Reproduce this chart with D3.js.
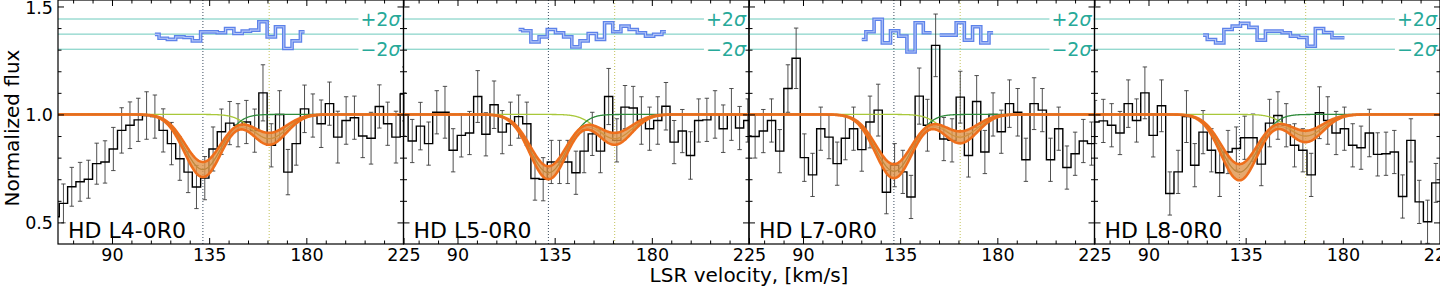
<!DOCTYPE html>
<html>
<head>
<meta charset="utf-8">
<title>HD absorption fits</title>
<script src="https://cdn.jsdelivr.net/npm/d3@7"></script>
<style>
  body { margin: 0; background: #fff; }
  svg { display: block; }
  text { font-family: "DejaVu Sans", sans-serif; }
</style>
</head>
<body>
<svg width="1440" height="288"></svg>
<script>
// ---- data ----
const lineNames = ["HD L4-0R0", "HD L5-0R0", "HD L7-0R0", "HD L8-0R0"];

// spectrum bins: left edge of the first bin and bin width (km/s)
const binStart = [61.75, 63.36, 62.13, 63.31];
const binWidth = [3.85, 3.79, 3.8, 3.85];

const flux1 = [0.526, 0.588, 0.665, 0.688, 0.70, 0.772, 0.78, 0.84, 0.926, 0.95, 0.975, 0.995, 0.99, 0.926, 0.865,
  0.795, 0.733, 0.664, 0.705, 0.84, 0.92, 0.96, 0.95, 0.965, 0.925, 1.10, 0.857, 1.0, 0.733, 0.865, 1.026, 0.995,
  0.957, 1.05, 0.895, 0.972, 0.985, 0.90, 0.89, 1.037, 0.957, 0.895, 1.095];
const flux2 = [1.0, 0.877, 0.946, 0.865, 1.01, 1.01, 0.834, 0.903, 0.914, 1.083, 0.908, 1.045, 0.918, 0.957, 0.99,
  0.957, 0.703, 0.70, 0.78, 0.78, 0.78, 0.73, 0.83, 0.91, 0.83, 1.083, 0.88, 1.034, 1.03, 0.972, 0.934, 0.972,
  1.038, 0.872, 0.923, 0.81, 0.972, 0.975, 1.0, 0.934, 1.0, 0.937, 0.972];
const flux3 = [0.90, 0.898, 0.923, 0.972, 0.83, 1.12, 1.26, 0.80, 0.72, 0.934, 0.895, 0.772, 0.89, 0.934, 0.837,
  0.965, 1.02, 0.64, 0.765, 0.734, 0.618, 1.085, 0.95, 1.32, 0.886, 0.88, 1.08, 0.81, 1.06, 0.826, 1.0, 0.92,
  1.05, 1.01, 0.79, 1.05, 1.02, 0.79, 0.934, 0.754, 0.818, 0.877, 0.865];
const flux4 = [0.965, 0.97, 0.95, 0.914, 1.05, 0.972, 1.10, 0.903, 1.04, 0.634, 0.734, 0.99, 0.765, 0.918, 0.834,
  0.73, 0.826, 0.842, 0.892, 0.892, 0.77, 0.96, 0.995, 0.95, 0.857, 0.834, 0.72, 1.008, 0.972, 0.914, 0.934,
  0.857, 0.846, 0.914, 0.815, 0.818, 0.826, 0.62, 0.88, 0.595, 0.503, 0.683];

const err1 = [0.09, 0.09, 0.09, 0.09, 0.088, 0.095, 0.098, 0.1, 0.105, 0.108, 0.1, 0.11, 0.1, 0.1, 0.098, 0.1, 0.095,
  0.1, 0.1, 0.102, 0.105, 0.1, 0.1, 0.1, 0.1, 0.13, 0.1, 0.11, 0.105, 0.1, 0.11, 0.1, 0.11, 0.1, 0.12, 0.11, 0.1,
  0.1, 0.12, 0.1, 0.1, 0.12, 0.125];
const err2 = [0.1, 0.1, 0.11, 0.1, 0.1, 0.12, 0.1, 0.1, 0.1, 0.12, 0.1, 0.11, 0.1, 0.1, 0.1, 0.1, 0.1, 0.1, 0.1,
  0.1, 0.1, 0.1, 0.1, 0.1, 0.1, 0.13, 0.1, 0.1, 0.1, 0.11, 0.1, 0.11, 0.11, 0.1, 0.1, 0.11, 0.1, 0.1, 0.11, 0.11,
  0.12, 0.1, 0.1];
const err3 = [0.1, 0.1, 0.1, 0.1, 0.1, 0.11, 0.14, 0.11, 0.1, 0.1, 0.1, 0.1, 0.1, 0.1, 0.1, 0.12, 0.12, 0.1, 0.1,
  0.1, 0.1, 0.13, 0.12, 0.145, 0.1, 0.1, 0.12, 0.1, 0.12, 0.1, 0.1, 0.1, 0.11, 0.11, 0.1, 0.12, 0.1, 0.1, 0.1,
  0.1, 0.1, 0.1, 0.1];
const err4 = [0.1, 0.1, 0.1, 0.1, 0.11, 0.1, 0.12, 0.1, 0.12, 0.1, 0.1, 0.12, 0.1, 0.1, 0.1, 0.11, 0.1, 0.1, 0.1,
  0.11, 0.1, 0.11, 0.11, 0.1, 0.1, 0.1, 0.1, 0.12, 0.11, 0.1, 0.1, 0.1, 0.1, 0.11, 0.1, 0.1, 0.1, 0.1, 0.1, 0.1,
  0.1, 0.09];

// residuals (in sigma), first bin index of each run
const resFirst = [12, 14, 14, 13];
const res1 = [-0.04, -0.55, -0.7, -0.36, -0.45, -0.9, 0.3, 0.3, 0.18, 0.75, 0.09, 0.4, 0.53, 1.64, -0.36, 0.98, -1.91, -0.9, 0.3];
const res2 = [0.62, 0.44, -1.02, -0.36, 0.62, 0.18, -0.36, -1.69, -0.9, 0.09, -0.7, 1.5, 0.31, 1.06, 0.62, 0.18, -0.27, -0.04, 0.31];
const res3 = [-0.71, 0.31, 1.96, -1.16, 0.44, -0.27, -2.36, 1.5, 0.18, null, -0.13, -0.13, 1.5, -0.8, 0.98, -1.16, 0.18];
const res4 = [-0.13, -0.71, -1.16, 0.62, 1.06, 1.42, 0.89, -0.8, 0.4, 0.4, 0.18, -0.27, -0.44, -1.6, 0.75, 0.22, -0.49, -0.49];

// fit: component velocities, widths, depths [upper-bound, best, lower-bound]
const compVel = [132.1, 162.8];
const compSigma = [8.5, 8.0];
const depthA = [[0.22, 0.255, 0.29], [0.24, 0.27, 0.30], [0.23, 0.263, 0.295], [0.23, 0.267, 0.305]];
const depthB = [[0.085, 0.112, 0.14], [0.085, 0.112, 0.14], [0.078, 0.105, 0.133], [0.075, 0.10, 0.128]];

const xMajor = [90, 135, 180, 225];
const xMinor = [72, 81, 99, 108, 117, 126, 144, 153, 162, 171, 189, 198, 207, 216];
const yMajor = [0.5, 1.0, 1.5];
const yMinor = [0.6, 0.7, 0.8, 0.9, 1.1, 1.2, 1.3, 1.4];

const fluxes = [flux1, flux2, flux3, flux4];
const errs = [err1, err2, err3, err4];
const resids = [res1, res2, res3, res4];

// ---- layout ----
const panelLeft = [58, 403.5, 749, 1094.5];
const panelW = 345.5;
const plotTop = 0, plotBottom = 244;

const svg = d3.select("svg");
const y = d3.scaleLinear().domain([0.4, 1.53]).range([plotBottom, plotTop]);
const ySig = d3.scaleLinear().domain([-2, 2]).range([y(1.302), y(1.442)]);

function profile(v, dA, dB) {
  const gA = Math.exp(-Math.pow(v - compVel[0], 2) / (2 * compSigma[0] * compSigma[0]));
  const gB = Math.exp(-Math.pow(v - compVel[1], 2) / (2 * compSigma[1] * compSigma[1]));
  return { a: 1 - dA * gA, b: 1 - dB * gB, tot: (1 - dA * gA) * (1 - dB * gB) };
}

const vGrid = d3.range(60, 230.01, 0.25);

fluxes.forEach(function (flux, i) {
  const x = d3.scaleLinear().domain([65, 225]).range([panelLeft[i], panelLeft[i] + panelW]);
  const g = svg.append("g");

  svg.append("clipPath").attr("id", "clip" + i)
    .append("rect")
    .attr("x", panelLeft[i]).attr("y", plotTop)
    .attr("width", panelW).attr("height", plotBottom - plotTop);

  const body = g.append("g").attr("clip-path", "url(#clip" + i + ")");

  // sigma guide lines
  [2, 0, -2].forEach(function (s) {
    body.append("line")
      .attr("x1", x(65)).attr("x2", x(225))
      .attr("y1", ySig(s)).attr("y2", ySig(s))
      .attr("stroke", "#5cc4b4").attr("stroke-width", 0.9);
  });

  // component velocities
  body.append("line")
    .attr("x1", x(compVel[0])).attr("x2", x(compVel[0]))
    .attr("y1", plotTop).attr("y2", plotBottom)
    .attr("stroke", "#3a4a5e").attr("stroke-width", 1).attr("stroke-dasharray", "1,2");
  body.append("line")
    .attr("x1", x(compVel[1])).attr("x2", x(compVel[1]))
    .attr("y1", plotTop).attr("y2", plotBottom)
    .attr("stroke", "#c2c25a").attr("stroke-width", 1).attr("stroke-dasharray", "1,2");

  // error bars
  const start = binStart[i], w = binWidth[i];
  const err = errs[i];
  flux.forEach(function (f, k) {
    const c = x(start + (k + 0.5) * w);
    const e = err[k];
    body.append("line")
      .attr("x1", c).attr("x2", c)
      .attr("y1", y(f - e)).attr("y2", y(f + e))
      .attr("stroke", "#3c3c3c").attr("stroke-width", 0.9);
    [f - e, f + e].forEach(function (yy) {
      body.append("line")
        .attr("x1", c - 2.2).attr("x2", c + 2.2)
        .attr("y1", y(yy)).attr("y2", y(yy))
        .attr("stroke", "#3c3c3c").attr("stroke-width", 0.9);
    });
  });

  // spectrum histogram
  let d = "";
  flux.forEach(function (f, k) {
    const x0 = x(start + k * w), x1 = x(start + (k + 1) * w);
    d += (k === 0 ? "M" + x0 + "," + y(f) : "V" + y(f)) + "H" + x1;
  });
  body.append("path").attr("d", d)
    .attr("fill", "none").attr("stroke", "#000").attr("stroke-width", 1.4);

  // individual components
  const compLine = function (key, dA, dB) {
    return d3.line()
      .x(function (v) { return x(v); })
      .y(function (v) { return y(profile(v, dA, dB)[key]); })(vGrid);
  };
  const dA = depthA[i], dB = depthB[i];
  body.append("path").attr("d", compLine("b", dA[1], dB[1]))
    .attr("fill", "none").attr("stroke", "#a8c83a").attr("stroke-width", 1.3);
  body.append("path").attr("d", compLine("a", dA[1], dB[1]))
    .attr("fill", "none").attr("stroke", "#2e8b3a").attr("stroke-width", 1.3);

  // fit band
  const area = d3.area()
    .x(function (v) { return x(v); })
    .y0(function (v) { return y(profile(v, dA[2], dB[2]).tot); })
    .y1(function (v) { return y(profile(v, dA[0], dB[0]).tot); });
  body.append("path").attr("d", area(vGrid))
    .attr("fill", "#e0934a").attr("fill-opacity", 0.8);
  [0, 2].forEach(function (j) {
    body.append("path").attr("d", compLine("tot", dA[j], dB[j]))
      .attr("fill", "none").attr("stroke", "#ef6f1c").attr("stroke-width", 2.6);
  });
  body.append("path").attr("d", compLine("tot", dA[1], dB[1]))
    .attr("fill", "none").attr("stroke", "#c9742e").attr("stroke-width", 0.5);

  // residuals, steps-mid
  const res = resids[i], r0 = resFirst[i];
  let rd = "", pen = false;
  res.forEach(function (r, j) {
    if (r == null) { pen = false; return; }
    const k = r0 + j;
    const xa = j === 0 ? x(start + (k + 0.5) * w) : x(start + k * w);
    const xb = j === res.length - 1 ? x(start + (k + 0.5) * w) : x(start + (k + 1) * w);
    rd += (pen ? "L" + xa + "," + ySig(r) : "M" + xa + "," + ySig(r)) + "H" + xb;
    pen = true;
  });
  body.append("path").attr("d", rd)
    .attr("fill", "none").attr("stroke", "#5d82ea").attr("stroke-width", 3.6);
  body.append("path").attr("d", rd)
    .attr("fill", "none").attr("stroke", "#b4c6f6").attr("stroke-width", 1.1);

  // sigma labels with white box
  [["+2", 2], ["\u22122", -2]].forEach(function (lab) {
    const t = g.append("text")
      .attr("x", x(225) - 3).attr("y", ySig(lab[1]))
      .attr("text-anchor", "end").attr("dominant-baseline", "central")
      .attr("font-size", 19).attr("fill", "#27a999");
    t.append("tspan").text(lab[0]);
    t.append("tspan").attr("font-style", "italic").text("\u03c3");
    const bb = t.node().getBBox();
    g.insert("rect", function () { return t.node(); })
      .attr("x", bb.x - 2).attr("y", bb.y + 2)
      .attr("width", bb.width + 3).attr("height", bb.height - 4)
      .attr("fill", "#fff");
  });

  // line name
  g.append("text")
    .attr("x", panelLeft[i] + 10).attr("y", 238)
    .attr("font-size", 22).attr("fill", "#000")
    .text(lineNames[i]);

  // axes, ticks inward on all sides
  const ax = g.append("g");
  ax.append("g").attr("transform", "translate(0," + plotBottom + ")")
    .call(d3.axisBottom(x).tickValues(xMajor).tickSize(-6).tickPadding(5).tickFormat(d3.format("d")));
  ax.append("g").attr("transform", "translate(0," + plotBottom + ")")
    .call(d3.axisBottom(x).tickValues(xMinor).tickSize(-3.5).tickFormat(""));
  ax.append("g").attr("transform", "translate(0," + plotTop + ")")
    .call(d3.axisTop(x).tickValues(xMajor).tickSize(-6).tickFormat(""));
  ax.append("g").attr("transform", "translate(0," + plotTop + ")")
    .call(d3.axisTop(x).tickValues(xMinor).tickSize(-3.5).tickFormat(""));
  const yAx = ax.append("g").attr("transform", "translate(" + panelLeft[i] + ",0)")
    .call(d3.axisLeft(y).tickValues(yMajor).tickSize(-6).tickPadding(5)
      .tickFormat(i === 0 ? d3.format(".1f") : ""));
  ax.append("g").attr("transform", "translate(" + panelLeft[i] + ",0)")
    .call(d3.axisLeft(y).tickValues(yMinor).tickSize(-3.5).tickFormat(""));
  ax.append("g").attr("transform", "translate(" + (panelLeft[i] + panelW) + ",0)")
    .call(d3.axisRight(y).tickValues(yMajor).tickSize(-6).tickFormat(""));
  ax.append("g").attr("transform", "translate(" + (panelLeft[i] + panelW) + ",0)")
    .call(d3.axisRight(y).tickValues(yMinor).tickSize(-3.5).tickFormat(""));
  ax.selectAll(".domain").remove();
  ax.selectAll(".tick line").attr("stroke", "#000").attr("stroke-width", 1);
  ax.selectAll(".tick text").attr("font-size", 17.5).attr("fill", "#000")
    .attr("font-family", "DejaVu Sans, sans-serif");
  // keep the top label inside the picture
  yAx.selectAll(".tick text").filter(function (dv) { return dv === 1.5; }).attr("y", 1.5);

  g.append("rect")
    .attr("x", panelLeft[i]).attr("y", plotTop)
    .attr("width", panelW).attr("height", plotBottom - plotTop)
    .attr("fill", "none").attr("stroke", "#000").attr("stroke-width", 1.2);
});

// axis titles
svg.append("text")
  .attr("transform", "translate(19,128) rotate(-90)")
  .attr("text-anchor", "middle").attr("font-size", 20)
  .text("Normalized flux");
svg.append("text")
  .attr("x", 749).attr("y", 282)
  .attr("text-anchor", "middle").attr("font-size", 20)
  .text("LSR velocity, [km/s]");
</script>
</body>
</html>
